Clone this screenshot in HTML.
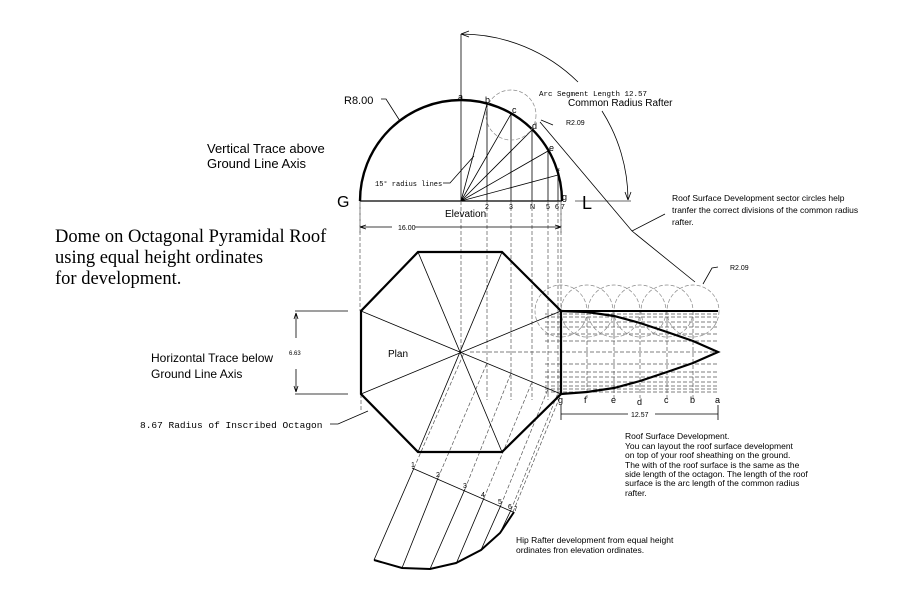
<!DOCTYPE html>
<html><head><meta charset="utf-8"><style>
html,body{margin:0;padding:0;background:#fff;}
svg{display:block;}
text{font-family:"Liberation Sans",sans-serif;fill:#000;}
.m{font-family:"Liberation Mono",monospace;}
.d{stroke-dasharray:4 2;}
</style></head><body>
<svg width="911" height="599" viewBox="0 0 911 599" xmlns="http://www.w3.org/2000/svg">
<g fill="none" stroke="#000" stroke-width="0.8">
<path d="M461,34 A167,167 0 0 1 578,82"/>
<path d="M602,111 A167,167 0 0 1 628,199"/>
<path d="M461,34 L461,201"/>
<path d="M461,34 l8,-3 M461,34 l8,3" />
<path d="M628,200 l-3,-8 M628,200 l3,-8"/>
<line x1="360" y1="201" x2="562" y2="201" stroke-width="1.2"/>
<line x1="575" y1="201" x2="631" y2="201" stroke="#888" stroke-width="1.2"/>
<path d="M360,201 A101,101 0 0 1 562,201" stroke-width="2.4"/>
<path d="M461,201 L487,104 M461,201 L511,114 M461,201 L532,130 M461,201 L548,151 M461,201 L558,175"/>
<path d="M487,104 V201 M511,114 V201 M532,130 V201 M548,151 V201 M558,175 V201"/>
<g class="d" stroke="#555" stroke-width="0.7">
<path d="M360,201 V311 M461,201 V352 M487,201 V400 M511,201 V400 M532,201 V400 M548,201 V400 M558,201 V400 M561,201 V311"/>
<path d="M414,468 L464,353 M438,478 L487,363 M465,489 L511,373 M484,498 L532,382 M501,505 L548,389 M511,510 L558,393 M513,512 L561,394"/>
<path d="M545,314H718 M545,317H718 M545,322H718 M545,327H718 M545,334H718 M545,341H718 M470,352H718 M545,364H718 M545,372H718 M545,377H718 M545,382H718 M545,386H718 M545,389H718 M545,392H718"/>
<path d="M587,311V398 M614,311V398 M640,311V398 M667,311V398 M693,311V398"/>
<circle cx="511" cy="115" r="25" stroke="#888"/>
<circle cx="561" cy="311" r="26" stroke="#888"/>
<circle cx="587" cy="311" r="26" stroke="#888"/>
<circle cx="614" cy="311" r="26" stroke="#888"/>
<circle cx="640" cy="311" r="26" stroke="#888"/>
<circle cx="667" cy="311" r="26" stroke="#888"/>
<circle cx="693" cy="311" r="26" stroke="#888"/>
<path d="M360,205V235 M561,205V235 M361,394V410"/>
</g>
<path d="M360,227H392 M415,227H561 M360,227l6,-2 M360,227l6,2 M561,227l-6,-2 M561,227l-6,2"/>
<path d="M540,122 L632,231 L695,282 M632,231 L665,214 M541,120 L553,125"/>
<path d="M703,284 L712,268 L718,267"/>
<path d="M443,183 L450,183 L474,156"/>
<path d="M381,99 L386,99 L400,121"/>
<polygon points="418,252 502,252 561,311 561,394 502,452 418,452 361,394 361,311" stroke-width="2.2"/>
<path d="M418,252 L502,452 M502,252 L418,452 M361,311 L561,394 M361,394 L561,311"/>
<path d="M295,311H348 M295,394H348 M296,313V338 M296,369V392 M296,313l-2,6 M296,313l2,6 M296,392l-2,-6 M296,392l2,-6"/>
<path d="M330,424 L338,424 L368,411"/>
<path d="M561,311 H718 M561,311 V394" stroke-width="2"/>
<path d="M561,311 L587,312 L614,316 L640,323 L667,332 L693,341 L718,352 L693,363 L667,372 L640,381 L614,388 L587,392 L561,394" stroke-width="2.2"/>
<path d="M561,405V420 M718,405V420 M561,414H628 M655,414H718"/>
<path d="M412,468 L513,512"/>
<path d="M414,468 L374,560 M438,478 L402,568 M465,489 L430,569 M484,498 L456,564 M501,505 L481,550 M511,510 L500,533"/>
<path d="M374,560 L402,568 L430,569 L456,563 L481,550 L500,533 L510,518 L514,512" stroke-width="2"/>
</g>
<text x="337" y="207" font-size="16">G</text>
<text x="582" y="209" font-size="18">L</text>
<text x="344" y="104" font-size="11">R8.00</text>
<text x="207" y="153" font-size="13">Vertical Trace above</text>
<text x="207" y="168" font-size="13">Ground Line Axis</text>
<text x="55" y="242" font-size="18.5" style="font-family:'Liberation Serif',serif">Dome on Octagonal Pyramidal Roof</text>
<text x="55" y="263" font-size="18.5" style="font-family:'Liberation Serif',serif">using equal height ordinates</text>
<text x="55" y="284" font-size="18.5" style="font-family:'Liberation Serif',serif">for development.</text>
<text x="151" y="362" font-size="12">Horizontal Trace below</text>
<text x="151" y="378" font-size="12">Ground Line Axis</text>
<text x="289" y="355" font-size="6">6.63</text>
<text x="140" y="428" font-size="9.5" class="m">8.67 Radius of Inscribed Octagon</text>
<text x="388" y="357" font-size="10">Plan</text>
<text x="445" y="217" font-size="10">Elevation</text>
<text x="375" y="186" font-size="7" class="m">15° radius lines</text>
<text x="398" y="230" font-size="7">16.00</text>
<text x="539" y="96" font-size="7.5" class="m">Arc Segment Length 12.57</text>
<text x="568" y="106" font-size="10">Common Radius Rafter</text>
<text x="566" y="125" font-size="7">R2.09</text>
<text x="730" y="270" font-size="7">R2.09</text>
<text x="458" y="100" font-size="9">a</text>
<text x="485" y="103" font-size="9">b</text>
<text x="512" y="113" font-size="9">c</text>
<text x="532" y="129" font-size="9">d</text>
<text x="549" y="151" font-size="9">e</text>
<text x="557" y="175" font-size="9">f</text>
<text x="562" y="200" font-size="9">g</text>
<text x="485" y="209" font-size="7">2</text>
<text x="509" y="209" font-size="7">3</text>
<text x="530" y="209" font-size="7">N</text>
<text x="546" y="209" font-size="7">5</text>
<text x="555" y="209" font-size="7">6 7</text>
<text x="672" y="201" font-size="8.5">Roof Surface Development sector circles help</text>
<text x="672" y="213" font-size="8.5">tranfer the correct divisions of the common radius</text>
<text x="672" y="225" font-size="8.5">rafter.</text>
<text x="558" y="403" font-size="9">g</text>
<text x="584" y="403" font-size="9">f</text>
<text x="611" y="403" font-size="9">e</text>
<text x="637" y="405" font-size="9">d</text>
<text x="664" y="403" font-size="9">c</text>
<text x="690" y="403" font-size="9">b</text>
<text x="715" y="403" font-size="9">a</text>
<text x="631" y="417" font-size="7">12.57</text>
<text x="625" y="439" font-size="8.5">Roof Surface Development.</text>
<text x="625" y="449" font-size="8.5">You can layout the roof surface development</text>
<text x="625" y="458" font-size="8.5">on top of your roof sheathing on the ground.</text>
<text x="625" y="468" font-size="8.5">The with of the roof surface is the same as the</text>
<text x="625" y="477" font-size="8.5">side length of the octagon. The length of the roof</text>
<text x="625" y="486" font-size="8.5">surface is the arc  length of the common radius</text>
<text x="625" y="496" font-size="8.5">rafter.</text>
<text x="516" y="543" font-size="8.5">Hip Rafter development from equal height</text>
<text x="516" y="553" font-size="8.5">ordinates fron elevation ordinates.</text>
<text x="411" y="467" font-size="7">1</text>
<text x="436" y="477" font-size="7">2</text>
<text x="463" y="488" font-size="7">3</text>
<text x="481" y="497" font-size="7">4</text>
<text x="498" y="504" font-size="7">5</text>
<text x="508" y="509" font-size="7">6</text>
<text x="514" y="511" font-size="6">7</text>
</svg>
</body></html>
